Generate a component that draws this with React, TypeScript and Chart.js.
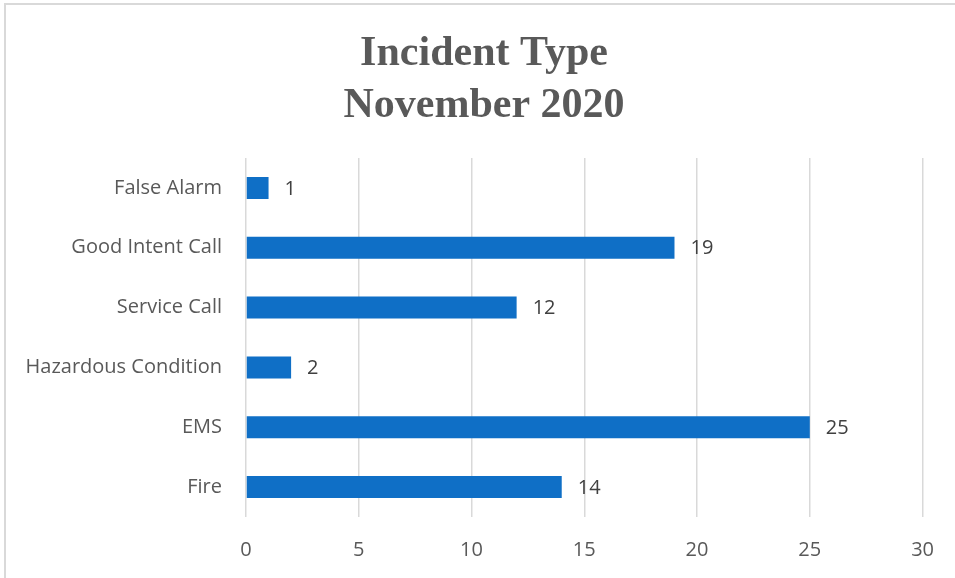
import React, { useEffect, useRef } from "react";
import { Chart, registerables } from "chart.js";

Chart.register(...registerables);

const categories = ["False Alarm", "Good Intent Call", "Service Call", "Hazardous Condition", "EMS", "Fire"];
const counts = [1, 19, 12, 2, 25, 14];
const titleLines = ["Incident Type", "November 2020"];
const xTicks = [0, 5, 10, 15, 20, 25, 30];

const W = 955;
const H = 578;

const titlePlugin = {
  id: "manualTitle",
  afterDraw(chart: any) {
    const ctx = chart.ctx;
    ctx.save();
    ctx.fillStyle = "#595959";
    ctx.font = "bold 42px 'Liberation Serif', 'Times New Roman', serif";
    ctx.textAlign = "center";
    ctx.textBaseline = "alphabetic";
    ctx.fillText(titleLines[0], 484, 65);
    ctx.fillText(titleLines[1], 484, 117);
    ctx.restore();
  },
};

const valueLabels = {
  id: "valueLabels",
  afterDatasetsDraw(chart: any) {
    const ctx = chart.ctx;
    const meta = chart.getDatasetMeta(0);
    ctx.save();
    ctx.fillStyle = "#404040";
    ctx.font = "20px 'Open Sans', sans-serif";
    ctx.textAlign = "left";
    ctx.textBaseline = "middle";
    meta.data.forEach((bar: any, i: number) => {
      ctx.fillText(String(counts[i]), bar.x + 16, bar.y + 1);
    });
    ctx.restore();
  },
};

export default function App() {
  const ref = useRef<HTMLCanvasElement>(null);
  useEffect(() => {
    if (!ref.current) return;
    const chart = new Chart(ref.current, {
      type: "bar",
      data: {
        labels: categories,
        datasets: [
          {
            data: counts,
            backgroundColor: "#0F6FC6",
            borderWidth: 0,
            categoryPercentage: 1,
            barPercentage: 0.368,
          },
        ],
      },
      options: {
        indexAxis: "y",
        animation: false,
        responsive: false,
        devicePixelRatio: 1,
        layout: { padding: { top: 158, right: 32, bottom: 0, left: 0 } },
        plugins: {
          legend: { display: false },
          title: { display: false },
          tooltip: { enabled: false },
        },
        scales: {
          x: {
            min: 0,
            max: 30,
            afterBuildTicks(scale: any) {
              scale.ticks = xTicks.map((v) => ({ value: v }));
            },
            afterFit(scale: any) {
              scale.height = H - 517;
            },
            grid: { color: "#d9d9d9", lineWidth: 1.5, drawTicks: false },
            border: { display: false },
            ticks: {
              padding: 21,
              color: "#595959",
              font: { family: "'Open Sans', sans-serif", size: 20 },
            },
          },
          y: {
            afterFit(scale: any) {
              scale.width = 246;
            },
            grid: { display: false },
            border: { display: false },
            ticks: {
              padding: 16,
              color: "#595959",
              font: { family: "'Open Sans', sans-serif", size: 20 },
            },
          },
        },
      },
      plugins: [titlePlugin, valueLabels],
    });
    return () => chart.destroy();
  }, []);

  return (
    <div style={{ position: "fixed", left: 0, top: 0, width: W, height: H, background: "#fff", overflow: "hidden" }}>
      <canvas ref={ref} width={W} height={H} style={{ position: "absolute", left: 0, top: 0, width: W, height: H }} />
      <div
        style={{
          position: "absolute",
          left: 4,
          top: 3,
          width: 1000,
          height: 1000,
          borderLeft: "2px solid #d9d9d9",
          borderTop: "2px solid #d9d9d9",
          pointerEvents: "none",
        }}
      />
    </div>
  );
}
